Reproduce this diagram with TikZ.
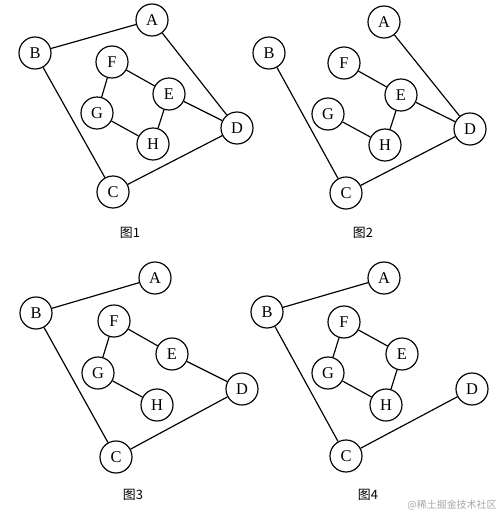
\documentclass[tikz,border=0pt]{standalone}
\usepackage{fontspec}
\setmainfont{Liberation Serif}
\newfontfamily\cjk{Noto Sans CJK SC}

\begin{document}
\begin{tikzpicture}[x=0.03cm, y=-0.03cm, line width=1pt,
    main/.style = {draw, circle, fill=white, minimum size=0.96cm, inner sep=0pt, font=\fontsize{14}{16}\selectfont},
    caption/.style = {font=\cjk\fontsize{11}{13}\selectfont}]
    \useasboundingbox (0,0) rectangle (503,514);

    % graph 1
    \begin{scope}
        \node[main] (A1) at (152,20) {A};
        \node[main] (B1) at (35,53) {B};
        \node[main] (F1) at (112,62) {F};
        \node[main] (E1) at (169,94) {E};
        \node[main] (G1) at (97,113) {G};
        \node[main] (H1) at (153,144) {H};
        \node[main] (D1) at (237,128) {D};
        \node[main] (C1) at (113,192) {C};
        \node[caption] (t1) at (130,233) {图1};

        \draw (A1) -- (B1);
        \draw (A1) -- (D1);
        \draw (B1) -- (C1);
        \draw (C1) -- (D1);
        \draw (F1) -- (E1);
        \draw (F1) -- (G1);
        \draw (G1) -- (H1);
        \draw (H1) -- (E1);
        \draw (E1) -- (D1);
    \end{scope}

    % graph 2
    \begin{scope}[shift={(233,1)}]
        \node[main] (A2) at (151,21) {A};
        \node[main] (B2) at (36,52) {B};
        \node[main] (F2) at (111,62) {F};
        \node[main] (E2) at (168,94) {E};
        \node[main] (G2) at (95,113) {G};
        \node[main] (H2) at (152,144) {H};
        \node[main] (D2) at (237,128) {D};
        \node[main] (C2) at (113,192) {C};
        \node[caption] (t2) at (130,232) {图2};

        \draw (A2) -- (D2);
        \draw (B2) -- (C2);
        \draw (C2) -- (D2);
        \draw (F2) -- (E2);
        \draw (E2) -- (D2);
        \draw (E2) -- (H2);
        \draw (G2) -- (H2);
    \end{scope}

    % graph 3
    \begin{scope}[shift={(0,258)}]
        \node[main] (A3) at (155,20) {A};
        \node[main] (B3) at (36,55) {B};
        \node[main] (F3) at (114,63) {F};
        \node[main] (E3) at (172,96) {E};
        \node[main] (G3) at (98,115) {G};
        \node[main] (H3) at (157,147) {H};
        \node[main] (D3) at (242,131) {D};
        \node[main] (C3) at (116,199) {C};
        \node[caption] (t3) at (133,237) {图3};

        \draw (A3) -- (B3);
        \draw (B3) -- (C3);
        \draw (C3) -- (D3);
        \draw (D3) -- (E3);
        \draw (E3) -- (F3);
        \draw (F3) -- (G3);
        \draw (G3) -- (H3);
    \end{scope}

    % graph 4
    \begin{scope}[shift={(240,258)}]
        \node[main] (A4) at (144,20) {A};
        \node[main] (B4) at (27,54) {B};
        \node[main] (F4) at (104,64) {F};
        \node[main] (E4) at (162,96) {E};
        \node[main] (G4) at (88,115) {G};
        \node[main] (H4) at (146,147) {H};
        \node[main] (D4) at (232,131) {D};
        \node[main] (C4) at (106,198) {C};
        \node[caption] (t4) at (128,237) {图4};

        \draw (A4) -- (B4);
        \draw (B4) -- (C4);
        \draw (C4) -- (D4);
        \draw (F4) -- (E4);
        \draw (F4) -- (G4);
        \draw (G4) -- (H4);
        \draw (H4) -- (E4);
    \end{scope}

    \node[font=\cjk\fontsize{8.5}{10}\selectfont, text=black!35] (mark) at (452,505) {@稀土掘金技术社区};
\end{tikzpicture}
\end{document}
